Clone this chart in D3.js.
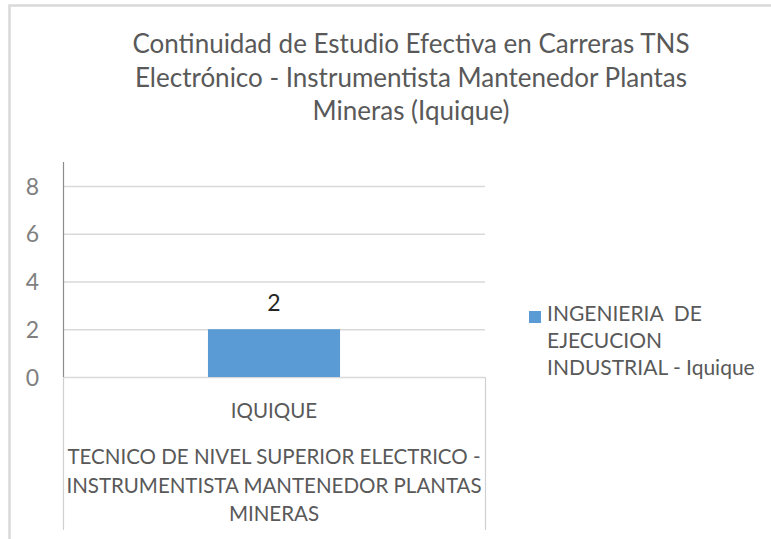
<!DOCTYPE html>
<html>
<head>
<meta charset="utf-8">
<script src="https://cdn.jsdelivr.net/npm/d3@7"></script>
<style>
  html, body { margin: 0; padding: 0; background: #fff; }
  svg { display: block; }
  text { font-family: Lato, "Open Sans", sans-serif; }
</style>
</head>
<body>
<div id="chart"></div>
<script>
// chart data
const titleLines = [
    "Continuidad de Estudio Efectiva en Carreras TNS",
    "Electrónico - Instrumentista Mantenedor Plantas",
    "Mineras (Iquique)"
];
const categories = ["IQUIQUE"];
const groupLines = [
    "TECNICO DE NIVEL SUPERIOR ELECTRICO -",
    "INSTRUMENTISTA MANTENEDOR PLANTAS",
    "MINERAS"
];
const seriesLines = ["INGENIERIA  DE", "EJECUCION", "INDUSTRIAL - Iquique"];
const values = [2];
const yTicks = [0, 2, 4, 6, 8];
const yMax = 9;

const W = 771, H = 539;
const plot = {left: 63, right: 485, top: 162, bottom: 377};
const barColor = '#5b9bd5';

const svg = d3.select('#chart').append('svg')
    .attr('width', W)
    .attr('height', H);

// outer chart border (only top/left visible in the crop)
svg.append('path')
    .attr('d', 'M9.5,' + (H + 5) + 'V5.5H' + (W + 5))
    .attr('fill', 'none')
    .attr('stroke', '#d9d9d9')
    .attr('stroke-width', 2.5);

// title
svg.append('text')
    .attr('x', 411)
    .attr('y', 53)
    .attr('text-anchor', 'middle')
    .style('font-size', '26px')
    .style('fill', '#595959')
  .selectAll('tspan')
    .data(titleLines)
  .enter().append('tspan')
    .attr('x', 411)
    .attr('dy', (d, i) => i ? 33.5 : 0)
    .text(d => d);

const x = d3.scaleBand()
    .domain(categories)
    .range([plot.left, plot.right])
    .padding(0);

const y = d3.scaleLinear()
    .domain([0, yMax])
    .range([plot.bottom, plot.top]);

// gridlines + tick labels
const yAxis = svg.append('g')
    .attr('transform', 'translate(' + plot.left + ',0)')
    .call(d3.axisLeft(y)
        .tickValues(yTicks)
        .tickSize(-(plot.right - plot.left))
        .tickPadding(24)
        .tickFormat(d3.format('d')));

yAxis.select('.domain').remove();
yAxis.selectAll('.tick line')
    .attr('stroke', '#d9d9d9')
    .attr('stroke-width', 1.5);
yAxis.selectAll('.tick text')
    .attr('dy', '0.36em')
    .style('font-size', '23px')
    .style('font-family', 'Lato, sans-serif')
    .style('fill', '#808080');

// vertical axis line
svg.append('line')
    .attr('x1', plot.left + 0.5).attr('x2', plot.left + 0.5)
    .attr('y1', plot.top).attr('y2', plot.bottom)
    .attr('stroke', '#8c8c8c')
    .attr('stroke-width', 1.2);

// category area dividers
const catBottom = 530;
svg.selectAll('.catline')
    .data([plot.left, plot.right])
  .enter().append('line')
    .attr('class', 'catline')
    .attr('x1', d => d + 0.5).attr('x2', d => d + 0.5)
    .attr('y1', plot.bottom).attr('y2', catBottom)
    .attr('stroke', '#d0d0d0')
    .attr('stroke-width', 1.2);

// bars
const barFrac = 0.313;
svg.selectAll('.bar')
    .data(values)
  .enter().append('rect')
    .attr('class', 'bar')
    .attr('x', (d, i) => x(categories[i]) + x.bandwidth() * (1 - barFrac) / 2)
    .attr('width', x.bandwidth() * barFrac)
    .attr('y', d => y(d))
    .attr('height', d => y(0) - y(d))
    .attr('fill', barColor);

// data labels
svg.selectAll('.vlabel')
    .data(values)
  .enter().append('text')
    .attr('class', 'vlabel')
    .attr('x', (d, i) => x(categories[i]) + x.bandwidth() / 2)
    .attr('y', d => y(d) - 18)
    .attr('text-anchor', 'middle')
    .style('font-size', '23px')
    .style('fill', '#262626')
    .text(d => d);

// category labels (two levels)
svg.selectAll('.cat')
    .data(categories)
  .enter().append('text')
    .attr('class', 'cat')
    .attr('x', d => x(d) + x.bandwidth() / 2)
    .attr('y', 418)
    .attr('text-anchor', 'middle')
    .style('font-size', '20.5px')
    .style('fill', '#595959')
    .text(d => d);

svg.append('text')
    .attr('text-anchor', 'middle')
    .attr('y', 464)
    .style('font-size', '20.5px')
    .style('fill', '#595959')
  .selectAll('tspan')
    .data(groupLines)
  .enter().append('tspan')
    .attr('x', (plot.left + plot.right) / 2)
    .attr('dy', (d, i) => i ? 28.5 : 0)
    .text(d => d);

// legend
const legend = svg.append('g').attr('transform', 'translate(529,311)');
legend.append('rect')
    .attr('width', 12).attr('height', 12)
    .attr('fill', barColor);
legend.append('text')
    .attr('y', 10)
    .style('font-size', '21px')
    .style('fill', '#595959')
    .style('white-space', 'pre')
  .selectAll('tspan')
    .data(seriesLines)
  .enter().append('tspan')
    .attr('x', 18)
    .attr('dy', (d, i) => i ? 27 : 0)
    .text(d => d);
</script>
</body>
</html>
